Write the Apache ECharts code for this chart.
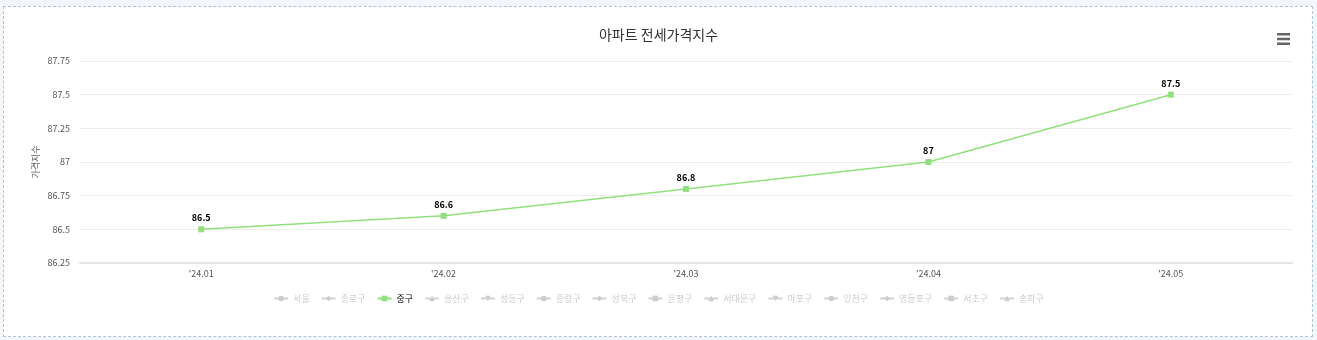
<!DOCTYPE html>
<html>
<head>
<meta charset="utf-8">
<script src="https://cdn.jsdelivr.net/npm/echarts@6/dist/echarts.min.js"></script>
<style>
html,body{margin:0;padding:0;background:#f3f7fb;}
#wrap{position:relative;width:1317px;height:340px;}
#box{position:absolute;left:3px;top:6px;width:1308px;height:329px;border:1px dashed #a9c3dc;background:#fff;}
#chart{position:absolute;left:0;top:0;width:1317px;height:340px;}
</style>
</head>
<body>
<div id="wrap"><div id="box"></div><div id="chart"></div></div>
<script>
const titleText = '아파트 전세가격지수';
const yAxisName = '가격지수';
const categories = ["'24.01", "'24.02", "'24.03", "'24.04", "'24.05"];
const seriesNames = ['서울','종로구','중구','용산구','성동구','중랑구','성북구','은평구','서대문구','마포구','양천구','영등포구','서초구','송파구'];
const junguValues = [86.5, 86.6, 86.8, 87.0, 87.5];
const yTicks = {min: 86.25, max: 87.75, interval: 0.25};
const symbols = ['circle','diamond','rect','triangle','path://M0,0L10,0L5,9Z'];

const font = '"Noto Sans CJK KR", "Noto Sans", sans-serif';
const series = seriesNames.map((n, i) => ({
  name: n,
  type: 'line',
  symbol: symbols[i % symbols.length],
  symbolSize: 6,
  data: n === '중구' ? junguValues : [],
  itemStyle: n === '중구' ? {color: '#91e07e'} : undefined,
  lineStyle: {width: 1.5},
  label: {show: true, position: 'top', color: '#000', fontSize: 9, fontWeight: 'bold', fontFamily: font, distance: 4}
}));
const selected = {};
seriesNames.forEach(n => selected[n] = (n === '중구'));

const chart = echarts.init(document.getElementById('chart'));
chart.setOption({
  animation: false,
  color: ['#5470c6','#fac858','#91e07e','#ee6666','#73c0de','#3ba272','#fc8452','#9a60b4','#ea7ccc','#5470c6','#91cc75','#fac858','#ee6666','#73c0de'],
  title: {text: titleText, left: 'center', top: 23, textStyle: {fontSize: 14, fontWeight: 'normal', color: '#333', fontFamily: font}},
  toolbox: {right: 12, top: 18, itemSize: 13,
    feature: {myMenu: {show: true, title: ' ', icon: 'path://M0,0H13V2.6H0Z M0,4.7H13V7.3H0Z M0,9.4H13V12H0Z', onclick: function(){}}},
    iconStyle: {color: '#666', borderWidth: 0}},
  grid: {left: 80, right: 25, top: 61, bottom: 77},
  legend: {top: 289, left: 'center', itemGap: 11, itemWidth: 14, itemHeight: 7, selected: selected,
    inactiveColor: '#ccc', textStyle: {fontSize: 9, color: '#000', fontFamily: font}},
  xAxis: {type: 'category', data: categories, boundaryGap: true,
    axisLine: {lineStyle: {color: '#e2e5ea', width: 2}}, axisTick: {show: false},
    axisLabel: {fontSize: 9, color: '#555', margin: 6, fontFamily: font}},
  yAxis: {type: 'value', min: yTicks.min, max: yTicks.max, interval: yTicks.interval,
    name: yAxisName, nameLocation: 'middle', nameGap: 40, nameRotate: 90, nameMoveOverlap: false,
    nameTextStyle: {fontSize: 9, color: '#666', fontFamily: font},
    axisLabel: {fontSize: 9, color: '#555', margin: 10, fontFamily: font},
    splitLine: {lineStyle: {color: '#eeeeee'}}},
  series: series
});
</script>
</body>
</html>
